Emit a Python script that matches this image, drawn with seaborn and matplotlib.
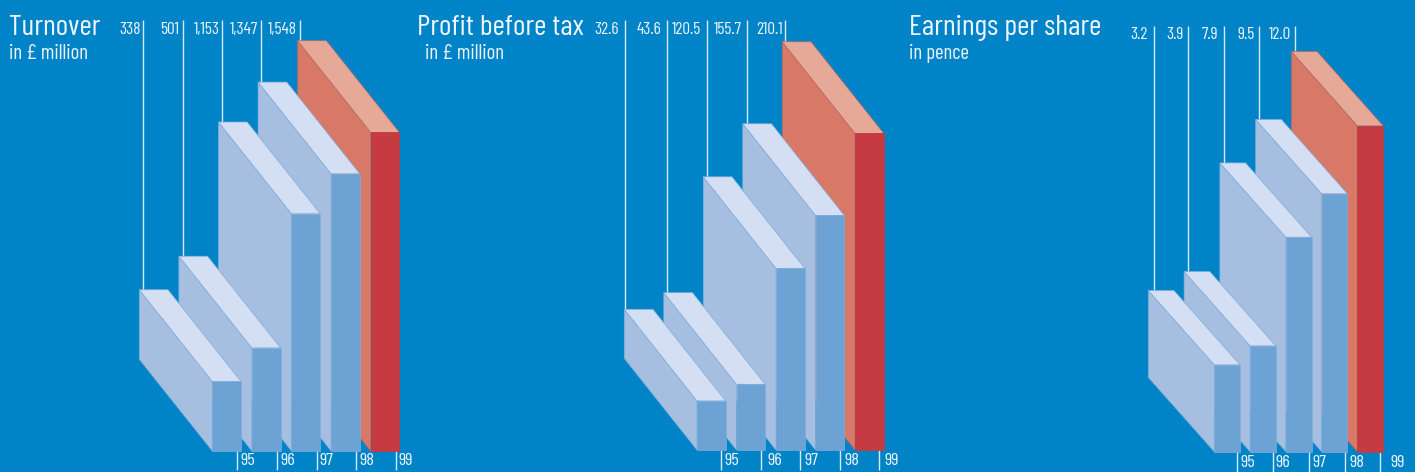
import matplotlib
matplotlib.use("Agg")
import matplotlib.pyplot as plt
from matplotlib import font_manager as fm
from matplotlib.patches import Polygon
from matplotlib.transforms import Affine2D, ScaledTranslation
import pandas as pd
import seaborn as sns

years = [95, 96, 97, 98, 99]
turnover = [338, 501, 1153, 1347, 1548]
turnover_labels = ["338", "501", "1,153", "1,347", "1,548"]
profit = [32.6, 43.6, 120.5, 155.7, 210.1]
profit_labels = ["32.6", "43.6", "120.5", "155.7", "210.1"]
eps = [3.2, 3.9, 7.9, 9.5, 12.0]
eps_labels = ["3.2", "3.9", "7.9", "9.5", "12.0"]

W, H = 1415, 472
BG = "#0083C7"
INK = "#EEF5FB"
LEAD = "#D8EAF5"
FRONT = {"blue": "#6DA2D5", "red": "#C53B41"}
SIDE = {"blue": "#A6BFE0", "red": "#D87866"}
TOP = {"blue": "#D4DFF3", "red": "#E6A997"}
EDGE = {"blue": "#7FAEDC", "red": "#B96A60"}

# Geometry of each panel, in figure pixels.
panels = [
    dict(values=turnover, labels=turnover_labels, title="Turnover", title_x=9,
         sub="in £ million", sub_x=9, px_per_unit=0.2058, baseline=451,
         first_bar=212.3, step=39.6, bar_w=28.7, dx=73, dy=91.7, span=(0, 410),
         lead_top=20, lead_nudge=[3.7, 3.7, 3.3, 2.5, 2.5], label_gap=[2, 3, 2, 2, 3],
         tick_off=10.8, tick_len=19, year_nudge=[3, 3, 3, 3, 3]),
    dict(values=profit, labels=profit_labels, title="Profit before tax", title_x=417,
         sub="in £ million", sub_x=425, px_per_unit=1.507, baseline=450,
         first_bar=697, step=39.5, bar_w=28.7, dx=72.7, dy=91.6, span=(410, 900),
         lead_top=20, lead_nudge=[0.4, 2.7, 3.7, 4.3, 2.3], label_gap=[6, 5, 6, 5, 2],
         tick_off=10, tick_len=20, year_nudge=[3, 7, 4, 5, 5]),
    dict(values=eps, labels=eps_labels, title="Earnings per share", title_x=909,
         sub="in pence", sub_x=909, px_per_unit=27.15, baseline=451.7,
         first_bar=1214.3, step=35.8, bar_w=25.7, dx=66, dy=74.3, span=(900, 1415),
         lead_top=25.5, lead_nudge=[5.4, 4.4, 3.7, 3, 3.3], label_gap=[6, 5, 5, 4, 4],
         tick_off=10, tick_len=20, year_nudge=[3, 3, 4, 5, 10]),
]

sns.set_theme(style="white")
installed = {f.name for f in fm.fontManager.ttflist}
narrow = [n for n in ("Barlow Condensed", "Archivo Narrow", "Liberation Sans Narrow") if n in installed]
plt.rcParams["font.family"] = narrow + ["DejaVu Sans"]

fig = plt.figure(figsize=(W / 100, H / 100), dpi=100, facecolor=BG)
to_fig = Affine2D().scale(1, -1).translate(0, H)


def draw_panel(p):
    left, right = p["span"]
    ax = fig.add_axes([left / W, 1 - p["baseline"] / H, (right - left) / W, p["baseline"] / H])
    ax.patch.set_alpha(0)

    tones = ["blue", "blue", "blue", "blue", "red"]
    table = pd.DataFrame({"year": years, "value": p["values"]})
    palette = {y: FRONT[t] for y, t in zip(years, tones)}
    sns.barplot(data=table, x="year", y="value", hue="year", palette=palette, dodge=False,
                native_scale=True, width=p["bar_w"] / p["step"], saturation=1, legend=False, ax=ax)

    # One year is one bar step wide; the depth of the blocks follows the same scales.
    centre = p["first_bar"] + p["bar_w"] / 2
    ax.set_xlim(years[0] + (left - centre) / p["step"], years[0] + (right - centre) / p["step"])
    ax.set_ylim(0, p["baseline"] / p["px_per_unit"])
    half = p["bar_w"] / p["step"] / 2
    depth_x = p["dx"] / p["step"]
    depth_y = p["dy"] / p["px_per_unit"]
    top_y = (p["baseline"] - p["lead_top"]) / p["px_per_unit"]

    bars = sorted(ax.patches, key=lambda b: b.get_x())
    for i, (year, value, tone, bar) in enumerate(zip(years, p["values"], tones, bars)):
        z = 10 + 3 * (len(years) - i)  # earlier years stand in front
        x0, x1 = year - half, year + half
        ax.add_patch(Polygon([(x0, 0), (x0, value), (x0 - depth_x, value + depth_y), (x0 - depth_x, depth_y)],
                             closed=True, fc=SIDE[tone], ec=EDGE[tone], lw=0.5, zorder=z, clip_on=False))
        ax.add_patch(Polygon([(x0, value), (x1, value), (x1 - depth_x, value + depth_y), (x0 - depth_x, value + depth_y)],
                             closed=True, fc=TOP[tone], ec=EDGE[tone], lw=0.5, zorder=z, clip_on=False))
        bar.set_zorder(z + 1)
        bar.set_edgecolor(EDGE[tone] if tone == "blue" else FRONT[tone])
        bar.set_linewidth(0.5)
        bar.set_clip_on(False)

        # Leader line from the back of the block up to its value.
        lead_x = x0 - depth_x + p["lead_nudge"][i] / p["step"]
        ax.plot([lead_x, lead_x], [value + depth_y, top_y], color=LEAD, lw=1.0,
                solid_capstyle="butt", zorder=2, clip_on=False)
        ax.annotate(p["labels"][i], xy=(lead_x, top_y), xytext=(-p["label_gap"][i] * 0.72, -6.5),
                    textcoords="offset points", ha="right", va="center",
                    color=INK, fontsize=12.5, annotation_clip=False)

    ticks = [y + p["tick_off"] / p["step"] for y in years]
    ax.set_xticks(ticks, [str(y) for y in years])
    ax.set_yticks([])
    ax.tick_params(axis="x", bottom=True, direction="out", length=p["tick_len"] * 0.72, width=1.0,
                   color=LEAD, labelcolor=INK, labelsize=13, pad=-12)
    for label, nudge in zip(ax.get_xticklabels(), p["year_nudge"]):
        label.set_ha("left")
        label.set_transform(label.get_transform() + ScaledTranslation(nudge / 100, 0, fig.dpi_scale_trans))
    ax.set_xlabel("")
    ax.set_ylabel("")
    sns.despine(ax=ax, left=True, bottom=True, right=True, top=True)

    fig.text(p["title_x"], 35, p["title"], transform=to_fig, color=INK, fontsize=21.5, va="baseline", ha="left")
    fig.text(p["sub_x"], 59, p["sub"], transform=to_fig, color=INK, fontsize=15, va="baseline", ha="left")


for panel in panels:
    draw_panel(panel)

fig.savefig("out.png", dpi=100, facecolor=BG)
